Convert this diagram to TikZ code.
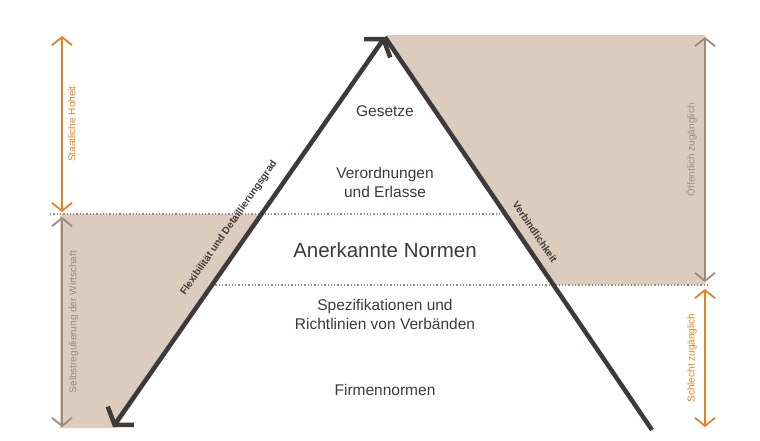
\documentclass[tikz,border=0pt]{standalone}
\usepackage{fontspec}
\setmainfont{Liberation Sans}
\usetikzlibrary{arrows.meta}
\definecolor{beige}{HTML}{DCCCBD}
\definecolor{dark}{HTML}{3F3A3A}
\definecolor{orng}{HTML}{E8801F}
\definecolor{gry}{HTML}{9A8C82}
\tikzset{
  thin arrow/.style={line width=1.8pt,{Straight Barb[length=8pt,width=20pt]}-{Straight Barb[length=8pt,width=20pt]}},
  dotline/.style={dotted,line width=1.3pt,color=gry},
  lbl/.style={font=\fontsize{15.5}{19}\selectfont,text=dark,align=center},
  side/.style={font=\fontsize{10}{11}\selectfont,rotate=90},
}
\begin{document}
\begin{tikzpicture}[x=1pt,y=-1pt]
\useasboundingbox (0,0) rectangle (760,440);
\coordinate (apex) at (385,37);
\coordinate (lend) at (113,427);
\coordinate (rend) at (652,430);
\fill[beige] (60,214) -- (262,214) -- (116,428) -- (60,428) -- cycle;
\fill[beige] (387,35) -- (705,35) -- (705,285) -- (553,285) -- cycle;
\draw[dotline] (50,214) -- (505,214);
\draw[dotline] (212,285) -- (708,285);
\draw[dark,line width=4.5pt,{Straight Barb[length=11pt,width=32pt]}-{Straight Barb[length=11pt,width=32pt]}] (lend) -- (apex);
\draw[dark,line width=4.5pt] (apex) -- (rend);
\coordinate (a1) at (62,36); \coordinate (a2) at (62,212);
\draw[orng,thin arrow] (a1) -- node[side,text=orng,below=2pt,pos=0.5]{Staatliche Hoheit} (a2);
\coordinate (b1) at (62,217); \coordinate (b2) at (62,427);
\draw[gry,thin arrow] (b1) -- node[side,text=gry,below=3pt]{Selbstregulierung der Wirtschaft} (b2);
\coordinate (c1) at (705,37); \coordinate (c2) at (705,282);
\draw[gry,thin arrow] (c1) -- node[side,text=gry,above=4pt,pos=0.46]{Öffentlich zugänglich} (c2);
\coordinate (d1) at (705,289); \coordinate (d2) at (705,427);
\draw[orng,thin arrow] (d1) -- node[side,text=orng,above=4pt]{Schlecht zugänglich} (d2);
\node[lbl] (g) at (385,111) {Gesetze};
\node[lbl] (v) at (385,182) {Verordnungen\\und Erlasse};
\node[lbl,font=\fontsize{20.5}{24}\selectfont] (n) at (385,250) {Anerkannte Normen};
\node[lbl] (s) at (385,314) {Spezifikationen und\\Richtlinien von Verbänden};
\node[lbl] (f) at (385,390) {Firmennormen};
\node[font=\bfseries\fontsize{10}{11}\selectfont,text=dark,rotate=55.2] (fl) at (229,228) {Flexibilität und Detaillierungsgrad};
\node[font=\bfseries\fontsize{10}{11}\selectfont,text=dark,rotate=-55.9] (vb) at (535,232) {Verbindlichkeit};
\end{tikzpicture}
\end{document}
